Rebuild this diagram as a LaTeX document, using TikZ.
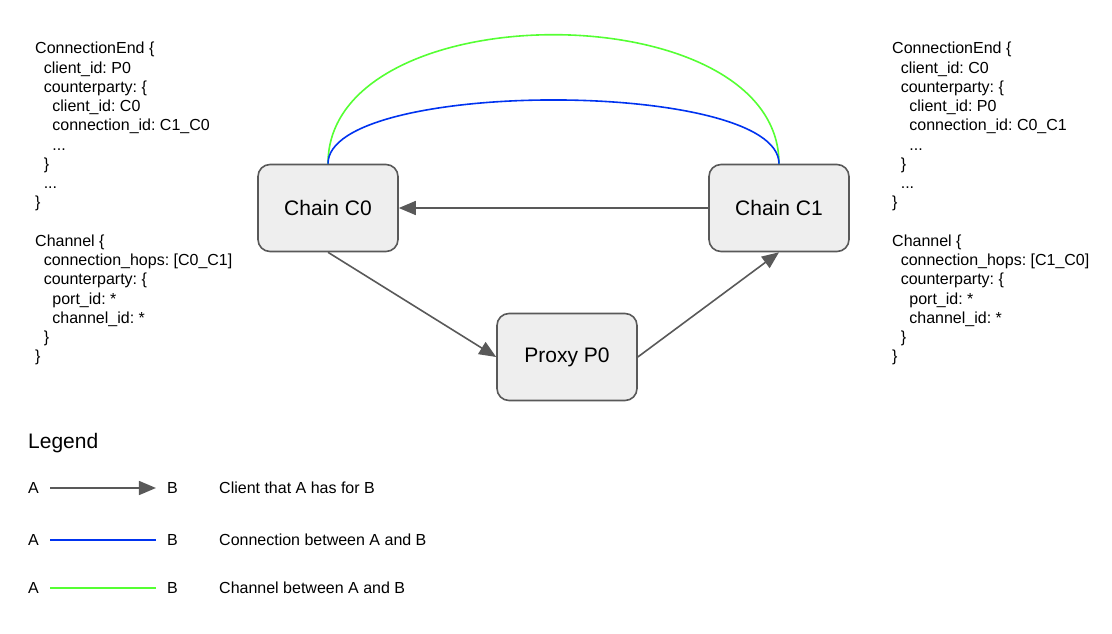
\documentclass[tikz,border=0pt]{standalone}
\usepackage{fontspec}
\setmainfont{Liberation Sans}
\usepackage{tikz}
\usetikzlibrary{positioning,arrows.meta}
\definecolor{edgegray}{RGB}{89,89,89}
\definecolor{boxfill}{RGB}{238,238,238}
\definecolor{connblue}{RGB}{0,51,240}
\definecolor{changreen}{RGB}{85,255,51}
\newcommand{\tabin}{\hspace*{8.6pt}}
\frenchspacing

\begin{document}
\begin{tikzpicture}[x=1pt,y=-1pt,
    chain/.style = {draw=edgegray, fill=boxfill, line width=1.6pt, rounded corners=12pt,
        minimum width=140pt, minimum height=87pt, font=\fontsize{21}{25}\selectfont},
    client/.style = {draw=edgegray, line width=1.6pt, -{Triangle[length=17pt,width=14pt]}},
    conn/.style = {draw=connblue, line width=1.6pt},
    chan/.style = {draw=changreen, line width=1.6pt},
    info/.style = {anchor=north west, inner sep=0pt, align=left, font=\fontsize{16}{19.25}\selectfont},
    letter/.style = {inner ysep=0pt, inner xsep=11pt, font=\fontsize{16}{19}\selectfont},
    legtext/.style = {anchor=west, inner sep=0pt, font=\fontsize{16}{19}\selectfont}]
    \useasboundingbox (0,0) rectangle (1112,634);
    % chains and proxy
    \node[chain] (c0) at (328,208) {Chain C0};
    \node[chain] (c1) [right=309.4pt of c0] {Chain C1};
    \node[chain] (p0) [below right=60.4pt and 97.4pt of c0] {Proxy P0};
    \draw[client] (c1) -- (c0);
    \draw[client] (c0.south) -- (p0.west);
    \draw[client] (p0.east) -- (c1.south);
    \draw[chan] (c0.north) .. controls +(0,-172) and +(0,-172) .. (c1.north);
    \draw[conn] (c0.north) .. controls +(0,-85) and +(0,-85) .. (c1.north);
    % state of each end
    \node[info] (endc0) at (35,42) {ConnectionEnd \{\\
        \tabin client\_id: P0\\
        \tabin counterparty: \{\\
        \tabin\tabin client\_id: C0\\
        \tabin\tabin connection\_id: C1\_C0\\
        \tabin\tabin ...\\
        \tabin \}\\
        \tabin ...\\
        \}\\
        \\
        Channel \{\\
        \tabin connection\_hops: [C0\_C1]\\
        \tabin counterparty: \{\\
        \tabin\tabin port\_id: *\\
        \tabin\tabin channel\_id: *\\
        \tabin \}\\
        \}};
    \node[info] (endc1) at (892,42) {ConnectionEnd \{\\
        \tabin client\_id: C0\\
        \tabin counterparty: \{\\
        \tabin\tabin client\_id: P0\\
        \tabin\tabin connection\_id: C0\_C1\\
        \tabin\tabin ...\\
        \tabin \}\\
        \tabin ...\\
        \}\\
        \\
        Channel \{\\
        \tabin connection\_hops: [C1\_C0]\\
        \tabin counterparty: \{\\
        \tabin\tabin port\_id: *\\
        \tabin\tabin channel\_id: *\\
        \tabin \}\\
        \}};
    % legend
    \node[anchor=west, inner sep=0pt, font=\fontsize{21}{25}\selectfont] (legend) at (28,443) {Legend};
    \node[letter] (a1) at (33.5,488) {A};
    \node[letter] (b1) at (172.5,488) {B};
    \node[legtext] (t1) at (219,488) {Client that A has for B};
    \draw[client] (a1) -- (b1);
    \node[letter] (a2) at (33.5,540) {A};
    \node[letter] (b2) at (172.5,540) {B};
    \node[legtext] (t2) at (219,540) {Connection between A and B};
    \draw[conn] (a2) -- (b2);
    \node[letter] (a3) at (33.5,588) {A};
    \node[letter] (b3) at (172.5,588) {B};
    \node[legtext] (t3) at (219,588) {Channel between A and B};
    \draw[chan] (a3) -- (b3);
\end{tikzpicture}
\end{document}
